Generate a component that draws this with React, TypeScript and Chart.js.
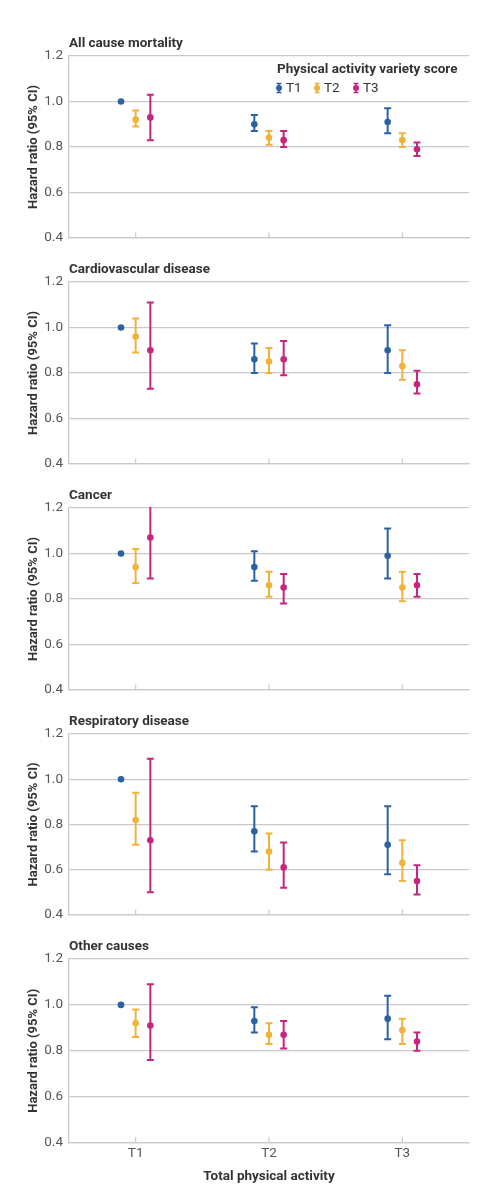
import { useEffect, useRef } from "react";
import { Chart, registerables } from "chart.js";

Chart.register(...registerables);

// x axis categories (total physical activity tertiles)
const categories = ["T1", "T2", "T3"];
// series (physical activity variety score tertiles)
const seriesNames = ["T1", "T2", "T3"];
const seriesColors = ["#2b62a4", "#f1b23c", "#c5267f"];
const seriesOffsets = [-0.11, 0, 0.11];

const outcomes = [
  "All cause mortality",
  "Cardiovascular disease",
  "Cancer",
  "Respiratory disease",
  "Other causes",
];

// hazard ratios per outcome, one row per outcome, one value per category
const t1Hr = [
  [1.0, 0.9, 0.91],
  [1.0, 0.86, 0.9],
  [1.0, 0.94, 0.99],
  [1.0, 0.77, 0.71],
  [1.0, 0.93, 0.94],
];
const t1Lower = [
  [null, 0.87, 0.86],
  [null, 0.8, 0.8],
  [null, 0.88, 0.89],
  [null, 0.68, 0.58],
  [null, 0.88, 0.85],
];
const t1Upper = [
  [null, 0.94, 0.97],
  [null, 0.93, 1.01],
  [null, 1.01, 1.11],
  [null, 0.88, 0.88],
  [null, 0.99, 1.04],
];

const t2Hr = [
  [0.92, 0.84, 0.83],
  [0.96, 0.85, 0.83],
  [0.94, 0.86, 0.85],
  [0.82, 0.68, 0.63],
  [0.92, 0.87, 0.89],
];
const t2Lower = [
  [0.89, 0.81, 0.8],
  [0.89, 0.8, 0.77],
  [0.87, 0.81, 0.79],
  [0.71, 0.6, 0.55],
  [0.86, 0.83, 0.83],
];
const t2Upper = [
  [0.96, 0.87, 0.86],
  [1.04, 0.91, 0.9],
  [1.02, 0.92, 0.92],
  [0.94, 0.76, 0.73],
  [0.98, 0.92, 0.94],
];

const t3Hr = [
  [0.93, 0.83, 0.79],
  [0.9, 0.86, 0.75],
  [1.07, 0.85, 0.86],
  [0.73, 0.61, 0.55],
  [0.91, 0.87, 0.84],
];
const t3Lower = [
  [0.83, 0.8, 0.76],
  [0.73, 0.79, 0.71],
  [0.89, 0.78, 0.81],
  [0.5, 0.52, 0.49],
  [0.76, 0.81, 0.8],
];
const t3Upper = [
  [1.03, 0.87, 0.82],
  [1.11, 0.94, 0.81],
  [1.28, 0.91, 0.91],
  [1.09, 0.72, 0.62],
  [1.09, 0.93, 0.88],
];

const hrBySeries = [t1Hr, t2Hr, t3Hr];
const lowerBySeries = [t1Lower, t2Lower, t3Lower];
const upperBySeries = [t1Upper, t2Upper, t3Upper];

const yTicks = [0.4, 0.6, 0.8, 1.0, 1.2];

const FONT = "Roboto, 'Noto Sans', sans-serif";
const GRID = "#c9c9c9";
const TEXT = "#333333";
const TICK = "#555555";

const panelHeights = [252, 226, 226, 225, 270];
const panelTopPad = [56, 30, 30, 30, 30];
const panelBottomPad = [8, 8, 8, 7, 10];

const errorBarPlugin = {
  id: "errorBars",
  beforeDatasetsDraw(chart: any) {
    const { ctx, chartArea } = chart;
    const y = chart.scales.y;
    ctx.save();
    ctx.beginPath();
    ctx.rect(chartArea.left, chartArea.top - 1, chartArea.right - chartArea.left, chartArea.bottom - chartArea.top + 1);
    ctx.clip();
    chart.data.datasets.forEach((ds: any, i: number) => {
      const meta = chart.getDatasetMeta(i);
      meta.data.forEach((pt: any, j: number) => {
        const lo = ds.lower[j];
        const hi = ds.upper[j];
        if (lo == null || hi == null) return;
        const yl = y.getPixelForValue(lo);
        const yh = y.getPixelForValue(hi);
        ctx.strokeStyle = ds.borderColor;
        ctx.lineWidth = 2;
        ctx.beginPath();
        ctx.moveTo(pt.x, yh);
        ctx.lineTo(pt.x, yl);
        ctx.moveTo(pt.x - 3.5, yh);
        ctx.lineTo(pt.x + 3.5, yh);
        ctx.moveTo(pt.x - 3.5, yl);
        ctx.lineTo(pt.x + 3.5, yl);
        ctx.stroke();
      });
    });
    ctx.restore();
  },
  afterDraw(chart: any, _args: any, opts: any) {
    const { ctx, chartArea } = chart;
    const x = chart.scales.x;
    ctx.save();

    // panel title
    ctx.fillStyle = TEXT;
    ctx.font = `bold 13.5px ${FONT}`;
    ctx.textAlign = "left";
    ctx.textBaseline = "middle";
    ctx.fillText(opts.title, chartArea.left, chartArea.top - 12);

    // inward tick marks on x axis
    ctx.strokeStyle = GRID;
    ctx.lineWidth = 1.2;
    categories.forEach((_c, i) => {
      const px = x.getPixelForValue(i + 1);
      ctx.beginPath();
      ctx.moveTo(px, chartArea.bottom);
      ctx.lineTo(px, chartArea.bottom - 5.5);
      ctx.stroke();
    });

    // legend
    if (opts.legend) {
      const lx = chartArea.left + 208;
      ctx.fillStyle = TEXT;
      ctx.font = `bold 13.5px ${FONT}`;
      ctx.fillText("Physical activity variety score", lx, chartArea.top + 14);
      const iy = chartArea.top + 32;
      const iconX = [210, 248, 287];
      seriesNames.forEach((name, k) => {
        const cx = chartArea.left + iconX[k];
        ctx.strokeStyle = seriesColors[k];
        ctx.fillStyle = seriesColors[k];
        ctx.lineWidth = 1.6;
        ctx.beginPath();
        ctx.moveTo(cx, iy - 4.5);
        ctx.lineTo(cx, iy + 4.5);
        ctx.moveTo(cx - 2.5, iy - 4.5);
        ctx.lineTo(cx + 2.5, iy - 4.5);
        ctx.moveTo(cx - 2.5, iy + 4.5);
        ctx.lineTo(cx + 2.5, iy + 4.5);
        ctx.stroke();
        ctx.beginPath();
        ctx.arc(cx, iy, 3, 0, Math.PI * 2);
        ctx.fill();
        ctx.fillStyle = TEXT;
        ctx.font = `13.5px ${FONT}`;
        ctx.fillText(name, cx + 7, iy + 0.5);
      });
    }
    ctx.restore();
  },
};

function Panel({ index }: { index: number }) {
  const canvasRef = useRef<HTMLCanvasElement | null>(null);

  useEffect(() => {
    if (!canvasRef.current) return;
    const isLast = index === outcomes.length - 1;
    const datasets = seriesNames.map((name, k) => ({
      label: name,
      data: hrBySeries[k][index].map((v, j) => ({ x: j + 1 + seriesOffsets[k], y: v })),
      lower: lowerBySeries[k][index],
      upper: upperBySeries[k][index],
      borderColor: seriesColors[k],
      backgroundColor: seriesColors[k],
      pointRadius: 3.3,
      pointBorderWidth: 0,
      showLine: false,
    }));

    const chart = new Chart(canvasRef.current, {
      type: "scatter",
      data: { datasets } as any,
      plugins: [errorBarPlugin],
      options: {
        animation: false,
        responsive: true,
        maintainAspectRatio: false,
        layout: {
          padding: { left: 0, right: 23, top: panelTopPad[index], bottom: panelBottomPad[index] },
        },
        plugins: {
          legend: { display: false },
          tooltip: { enabled: false },
          errorBars: { title: outcomes[index], legend: index === 0 },
        } as any,
        scales: {
          x: {
            type: "linear",
            min: 0.5,
            max: 3.5,
            afterBuildTicks: (scale: any) => {
              scale.ticks = categories.map((_c, i) => ({ value: i + 1 }));
            },
            grid: { display: false, drawTicks: false },
            border: { display: true, color: GRID, width: 1.2 },
            ticks: {
              display: isLast,
              padding: 3,
              color: TICK,
              font: { family: FONT, size: 13.5 },
              callback: (v: any) => categories[Math.round(v) - 1] ?? "",
            },
            title: {
              display: isLast,
              text: "Total physical activity",
              color: TEXT,
              font: { family: FONT, size: 13.5, weight: "bold" },
              padding: { top: 4, bottom: 4 },
            },
          },
          y: {
            min: 0.4,
            max: 1.2,
            afterBuildTicks: (scale: any) => {
              scale.ticks = yTicks.map((v) => ({ value: v }));
            },
            afterFit: (scale: any) => {
              scale.width = 69;
            },
            grid: { color: GRID, lineWidth: 1.2, drawTicks: false },
            border: { display: true, color: GRID, width: 1.2 },
            ticks: {
              padding: 6,
              color: TICK,
              font: { family: FONT, size: 13.5 },
              callback: (v: any) => Number(v).toFixed(1),
            },
            title: {
              display: true,
              text: "Hazard ratio (95% CI)",
              color: TEXT,
              font: { family: FONT, size: 13, weight: "bold" },
              padding: { top: 26, bottom: 0 },
            },
          },
        },
      } as any,
    });
    return () => chart.destroy();
  }, [index]);

  return (
    <div style={{ position: "relative", width: 492, height: panelHeights[index] }}>
      <canvas ref={canvasRef} />
    </div>
  );
}

export default function App() {
  useEffect(() => {
    document.body.style.margin = "0";
    document.body.style.background = "#ffffff";
  }, []);

  return (
    <div style={{ width: 492, height: 1199, background: "#ffffff" }}>
      {outcomes.map((_o, i) => (
        <Panel key={i} index={i} />
      ))}
    </div>
  );
}
